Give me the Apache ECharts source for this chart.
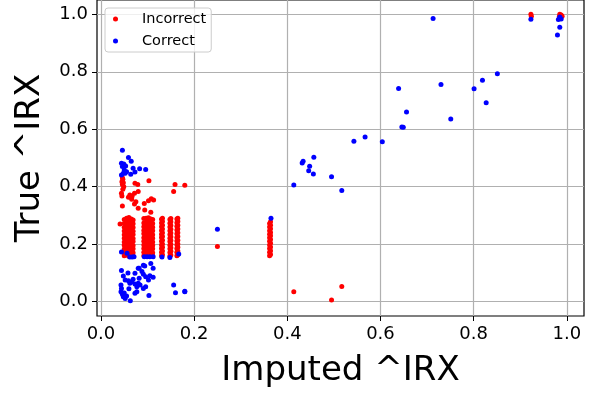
<!DOCTYPE html>
<html>
<head>
<meta charset="utf-8">
<script src="https://cdn.jsdelivr.net/npm/echarts@6/dist/echarts.min.js"></script>
<style>html,body{margin:0;padding:0;background:#fff;}#chart{width:589px;height:394px;}</style>
</head>
<body>
<div id="chart"></div>
<script>
// ---- tick labels ----
const xTicks = [0.0, 0.2, 0.4, 0.6, 0.8, 1.0];
const yTicks = [0.0, 0.2, 0.4, 0.6, 0.8, 1.0];
const seriesNames = ['Incorrect', 'Correct'];

// ---- Incorrect (red): dense vertical bands, x positions and y values per column ----
const redBandX = [0.050, 0.055, 0.060, 0.065, 0.069, 0.092, 0.097, 0.102, 0.107, 0.111, 0.130, 0.132, 0.148, 0.150, 0.163, 0.165, 0.362, 0.364];
const redBandY = [
  [0.160,0.171,0.183,0.196,0.208,0.221,0.233,0.246,0.259,0.272,0.286],
  [0.162,0.174,0.187,0.199,0.212,0.224,0.238,0.250,0.263,0.276,0.290],
  [0.158,0.169,0.181,0.194,0.205,0.218,0.230,0.243,0.256,0.268,0.281,0.293],
  [0.161,0.173,0.186,0.198,0.210,0.223,0.235,0.248,0.261,0.274,0.288],
  [0.159,0.170,0.184,0.195,0.209,0.220,0.234,0.245,0.258,0.271,0.284],
  [0.160,0.172,0.185,0.197,0.210,0.222,0.236,0.248,0.261,0.274,0.289],
  [0.162,0.175,0.186,0.199,0.211,0.225,0.237,0.250,0.262,0.276,0.290],
  [0.159,0.171,0.183,0.196,0.207,0.220,0.233,0.245,0.258,0.270,0.283,0.292],
  [0.161,0.173,0.186,0.198,0.212,0.224,0.236,0.249,0.262,0.275,0.288],
  [0.160,0.170,0.184,0.195,0.208,0.221,0.233,0.247,0.259,0.272,0.286],
  [0.160,0.172,0.185,0.197,0.210,0.223,0.235,0.248,0.261,0.274,0.287],
  [0.163,0.176,0.189,0.201,0.214,0.227,0.240,0.253,0.266,0.279,0.290],
  [0.159,0.171,0.184,0.196,0.209,0.221,0.234,0.247,0.260,0.273,0.286],
  [0.162,0.175,0.188,0.200,0.213,0.226,0.239,0.252,0.265,0.278,0.289],
  [0.160,0.172,0.185,0.198,0.211,0.223,0.236,0.249,0.262,0.275,0.288],
  [0.163,0.176,0.189,0.201,0.214,0.227,0.240,0.253,0.266,0.279,0.290],
  [0.160,0.172,0.185,0.197,0.210,0.222,0.235,0.247,0.260,0.272],
  [0.164,0.177,0.190,0.203,0.216,0.229,0.241,0.254,0.266,0.278]
];
// ---- Incorrect (red): scattered points ----
const redX = [0.046,0.047,0.045,0.048,0.046,0.049,0.047,0.073,0.079,0.103,0.159,0.180,0.156,0.044,0.045,0.062,0.067,0.072,0.080,0.059,0.066,0.075,0.072,0.102,0.108,0.113,0.093,0.046,0.080,0.094,0.107,0.041,0.250,0.414,0.495,0.517,0.923,0.924,0.985,0.988,0.990,0.984];
const redY = [0.431,0.426,0.417,0.414,0.408,0.400,0.391,0.412,0.408,0.421,0.408,0.405,0.383,0.377,0.368,0.371,0.368,0.377,0.383,0.363,0.356,0.348,0.340,0.351,0.358,0.354,0.342,0.333,0.325,0.319,0.311,0.270,0.192,0.034,0.006,0.053,1.000,0.993,1.000,0.998,0.993,0.992];

// ---- Correct (blue) ----
const blueX = [
  0.713,0.923,0.985,0.988,0.982,0.985,0.980,0.639,0.730,0.801,0.819,0.851,0.827,0.656,0.751,0.646,0.649,0.604,0.543,0.567,
  0.457,0.434,0.432,0.448,0.446,0.456,0.495,0.414,0.517,0.250,0.365,0.180,
  0.046,0.059,0.065,0.044,0.049,0.053,0.046,0.050,0.055,0.048,0.083,0.096,0.073,0.064,0.044,0.069,0.052,
  0.044,0.056,0.062,0.067,0.071,0.093,0.099,0.105,0.112,0.131,0.148,0.167,
  0.107,0.094,0.082,0.044,0.073,0.091,0.096,0.112,0.102,0.048,0.052,0.059,0.069,0.066,0.062,0.080,0.043,0.044,0.043,0.046,
  0.048,0.052,0.077,0.073,0.103,0.063,0.156,0.160,0.180,0.082,0.105,0.088,0.060,0.055,0.050,0.058,0.073,0.077,0.084,0.091,0.096,0.080,0.091,0.112
];
const blueY = [
  0.986,0.983,0.991,0.984,0.982,0.955,0.928,0.742,0.756,0.741,0.771,0.793,0.692,0.660,0.636,0.608,0.607,0.557,0.558,0.573,
  0.503,0.489,0.483,0.471,0.456,0.444,0.435,0.406,0.387,0.252,0.290,0.036,
  0.527,0.502,0.489,0.482,0.479,0.472,0.470,0.458,0.452,0.447,0.463,0.460,0.451,0.443,0.441,0.464,0.447,
  0.173,0.168,0.155,0.155,0.156,0.156,0.156,0.156,0.156,0.155,0.154,0.166,
  0.133,0.124,0.116,0.108,0.099,0.095,0.087,0.085,0.075,0.089,0.075,0.073,0.078,0.068,0.064,0.064,0.058,0.046,0.034,0.026,
  0.017,0.011,0.034,0.029,0.021,0.003,0.058,0.031,0.034,0.081,0.090,0.105,0.045,0.020,0.030,0.100,0.061,0.052,0.058,0.046,0.052,0.116,0.127,0.116
];

const redData = [];
redBandX.forEach((x, i) => redBandY[i].forEach(y => redData.push([x, y])));
redX.forEach((x, i) => redData.push([x, redY[i]]));
const blueData = blueX.map((x, i) => [x, blueY[i]]);

const FONT = 'DejaVu Sans';
const chart = echarts.init(document.getElementById('chart'), null, {renderer: 'canvas'});
chart.setOption({
  animation: false,
  backgroundColor: '#fff',
  grid: {left: 97, right: 5, top: 0, bottom: 78, show: true, borderColor: '#000', borderWidth: 1.2, backgroundColor: 'transparent', outerBoundsMode: 'none'},
  legend: {
    orient: 'vertical', left: 105, top: 8,
    data: seriesNames, icon: 'circle', itemWidth: 25, itemHeight: 5, itemGap: 6,
    padding: [3, 5, 3, 8],
    backgroundColor: 'rgba(255,255,255,0.8)', borderColor: '#ccc', borderWidth: 1, borderRadius: 3,
    textStyle: {fontFamily: FONT, fontSize: 14.5, color: '#000', lineHeight: 16, padding: [0, 0, 0, 9]}
  },
  xAxis: {
    type: 'value', min: -0.0085, max: 1.037,
    name: 'Imputed ^IRX', nameLocation: 'middle', nameGap: 38,
    nameTextStyle: {fontFamily: FONT, fontSize: 34, color: '#000'},
    axisLine: {show: false, onZero: false},
    axisTick: {show: true, length: 5, lineStyle: {color: '#000', width: 1}, customValues: xTicks},
    axisLabel: {customValues: xTicks, formatter: v => v.toFixed(1), fontFamily: FONT, fontSize: 18, color: '#000', margin: 9},
    splitLine: {show: true, lineStyle: {color: '#b0b0b0', width: 1.2}}
  },
  yAxis: {
    type: 'value', min: -0.05, max: 1.05,
    name: 'True ^IRX', nameLocation: 'middle', nameGap: 50,
    nameTextStyle: {fontFamily: FONT, fontSize: 34, color: '#000'},
    axisLine: {show: false, onZero: false},
    axisTick: {show: true, length: 5, lineStyle: {color: '#000', width: 1}, customValues: yTicks},
    axisLabel: {customValues: yTicks, formatter: v => v.toFixed(1), fontFamily: FONT, fontSize: 18, color: '#000', margin: 9},
    splitLine: {show: true, lineStyle: {color: '#b0b0b0', width: 1.2}}
  },
  series: [
    {name: seriesNames[0], type: 'scatter', data: redData, symbolSize: 5, itemStyle: {color: '#ff0000', opacity: 1}},
    {name: seriesNames[1], type: 'scatter', data: blueData, symbolSize: 5, itemStyle: {color: '#0000ff', opacity: 1}}
  ]
});
</script>
</body>
</html>
